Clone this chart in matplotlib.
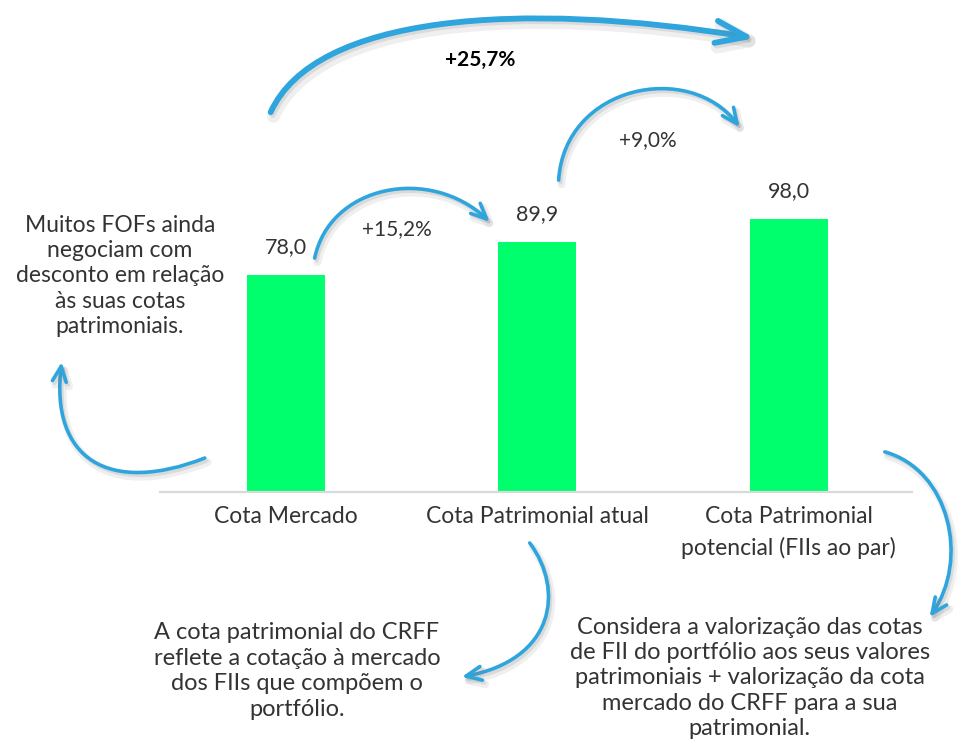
import matplotlib
matplotlib.use("Agg")
import matplotlib.pyplot as plt
from matplotlib.path import Path
from matplotlib.patches import FancyArrowPatch
import matplotlib.patheffects as pe

plt.rcParams['font.family'] = ['Lato', 'DejaVu Sans']

categories = ['Cota Mercado', 'Cota Patrimonial atual', 'Cota Patrimonial\npotencial (FIIs ao par)']
values = [78.0, 89.9, 98.0]
value_labels = ['78,0', '89,9', '98,0']
steps = ['+15,2%', '+9,0%']
total = '+25,7%'

note_left = 'Muitos FOFs ainda\nnegociam com\ndesconto em relação\nàs suas cotas\npatrimoniais.'
note_mid = 'A cota patrimonial do CRFF\nreflete a cotação à mercado\ndos FIIs que compõem o\nportfólio.'
note_right = ('Considera a valorização das cotas\nde FII do portfólio aos seus valores\n'
              'patrimoniais + valorização da cota\nmercado do CRFF para a sua\npatrimonial.')

GREEN = '#00FF6C'
BLUE = '#2EA5DC'
TXT = '#333333'

fig = plt.figure(figsize=(9.58, 7.45), dpi=100)
ax = fig.add_axes([160/958, 253/745, 752/958, 492/745])
x = list(range(len(values)))
ax.bar(x, values, width=0.31, color=GREEN, zorder=2)
ax.set_xlim(-0.5, 2.49)
ax.set_ylim(0, 176.7)
for s in ['top', 'right', 'left']:
    ax.spines[s].set_visible(False)
ax.spines['bottom'].set_color('#D9D9D9')
ax.spines['bottom'].set_linewidth(1.6)
ax.set_yticks([])
ax.set_xticks(x, categories)
ax.tick_params(axis='x', length=0, pad=10, labelsize=16.5, labelcolor=TXT)
for lbl in ax.get_xticklabels():
    lbl.set_linespacing(1.55)

for i, v in enumerate(values):
    ax.annotate(value_labels[i], (i, v), xytext=(0, 20), textcoords='offset points',
                ha='center', va='center', fontsize=15.5, color=TXT)

# percent labels
ax.text(0.441, 94.4, steps[0], ha='center', va='center', fontsize=15, color=TXT)
ax.text(1.439, 126.4, steps[1], ha='center', va='center', fontsize=15, color=TXT)
ax.text(0.775, 155.1, total, ha='center', va='center', fontsize=15, color='black',
        fontweight='bold')

# notes
ax.text(-0.66, 77.6, note_left, ha='center', va='center', fontsize=16.5, color=TXT,
        linespacing=1.25, clip_on=False)
ax.text(0.044, -64.3, note_mid, ha='center', va='center', fontsize=17, color=TXT,
        linespacing=1.26, clip_on=False)
ax.text(1.845, -66.8, note_right, ha='center', va='center', fontsize=17, color=TXT,
        linespacing=1.24, clip_on=False)

# curved arrows (cubic bezier, data coords)
def curved_arrow(pts, lw=2.6, hl=11, hw=5):
    codes = [Path.MOVETO, Path.CURVE4, Path.CURVE4, Path.CURVE4]
    arr = FancyArrowPatch(path=Path(pts, codes),
                          arrowstyle='->,head_length=%g,head_width=%g' % (hl, hw),
                          color=BLUE, lw=lw, capstyle='round', joinstyle='round',
                          clip_on=False, zorder=3)
    arr.set_path_effects([pe.SimpleLineShadow(offset=(2, -3), shadow_color='gray', alpha=0.12,
                                              linewidth=lw * 2.2),
                          pe.SimpleLineShadow(offset=(1.5, -2), shadow_color='gray', alpha=0.18),
                          pe.Normal()])
    ax.add_patch(arr)

curved_arrow([(-0.06, 136.4), (0.115, 171.3), (0.93, 176.7), (1.865, 163.0)], lw=4.2, hl=22, hw=8)
curved_arrow([(0.115, 84.0), (0.175, 110.2), (0.573, 117.4), (0.811, 97.0)])
curved_arrow([(1.085, 112.0), (1.109, 146.1), (1.606, 155.1), (1.805, 131.0)])
curved_arrow([(-0.322, 12.2), (-0.700, -1.1), (-0.938, 11.5), (-0.891, 46.7)])
curved_arrow([(0.970, -18.3), (1.109, -35.2), (1.070, -60.3), (0.700, -66.4)])
curved_arrow([(2.382, 14.4), (2.640, 7.9), (2.720, -24.4), (2.560, -44.9)])

fig.savefig('out.png', dpi=100, facecolor='white')
